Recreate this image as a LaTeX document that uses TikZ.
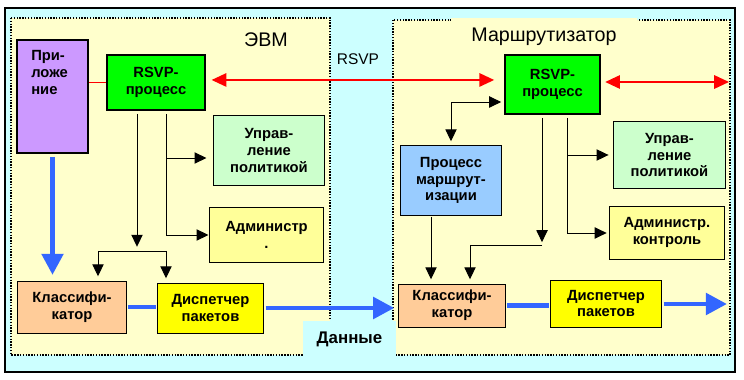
\documentclass[tikz,border=0pt]{standalone}
\usepackage{fontspec}
\setmainfont{Liberation Sans}
\usetikzlibrary{arrows.meta,positioning}
\definecolor{bgcyan}{HTML}{CCFFFF}
\definecolor{panelyellow}{HTML}{FFFFCC}
\definecolor{appviolet}{HTML}{CC99FF}
\definecolor{rsvpgreen}{HTML}{00FF00}
\definecolor{polgreen}{HTML}{CCFFCC}
\definecolor{admyellow}{HTML}{FFFF99}
\definecolor{clspeach}{HTML}{FFCC99}
\definecolor{dspyellow}{HTML}{FFFF00}
\definecolor{routblue}{HTML}{99CCFF}
\definecolor{flowblue}{HTML}{3366FF}

\begin{document}
\begin{tikzpicture}[x=0.025cm, y=-0.025cm,
  box/.style={draw, inner sep=0pt, align=center, line width=0.7pt, font=\bfseries\fontsize{10.5}{12}\selectfont},
  heavy/.style={line width=1.4pt},
  lbl/.style={inner sep=0pt, font=\bfseries\fontsize{10.5}{12}\selectfont},
  heading/.style={inner sep=0pt, font=\fontsize{14}{16}\selectfont},
  panel/.style={draw, fill=panelyellow, line width=0.8pt, dash pattern=on 1pt off 1pt},
  wire/.style={line width=0.7pt},
  arr/.style={wire, -{Triangle[length=8.5pt,width=8pt]}},
  darr/.style={wire, {Triangle[length=8.5pt,width=8pt]}-{Triangle[length=8.5pt,width=8pt]}},
  flow/.style={draw=flowblue, line width=3.5pt},
  flowarr/.style={flow, -{Triangle[length=15pt,width=15pt]}},
  redline/.style={draw=red, line width=1.3pt},
  sigarr/.style={redline, {Triangle[length=10.5pt,width=9.5pt]}-{Triangle[length=10.5pt,width=9.5pt]}}
]
\useasboundingbox (0,0) rectangle (744,380);
\fill[white] (0,0) rectangle (744,380);
\draw[line width=1.4pt, fill=bgcyan] (5,8) rectangle (735,372);

\path[panel] (11,18) rectangle (330,355);
\path[panel] (393,20) rectangle (730,355);

\node[heading] (evm) at (266,40) {ЭВМ};
\node[heading, fill=panelyellow, minimum width=4.625cm, minimum height=0.95cm] (router) at (544,37) {Маршрутизатор};
\node[inner sep=0pt, font=\fontsize{11}{13}\selectfont] (rsvp) at (358,59) {RSVP};
\node[inner sep=0pt, fill=bgcyan, minimum width=2.325cm, minimum height=0.9cm, font=\bfseries\fontsize{12}{14}\selectfont] (data) at (349.5,339) {Данные};

\node[box, heavy, fill=appviolet, minimum width=1.775cm, minimum height=2.825cm] (app) at (52.5,96.5) {};
\node[lbl, anchor=north west, align=left] (apptxt) at (31,50) {При-\\ложе\\ние};
\node[box, heavy, fill=rsvpgreen, minimum width=2.45cm, minimum height=1.375cm] (rsvpL) at (156,82.5) {RSVP-\\процесс};
\node[box, fill=polgreen, minimum width=2.75cm, minimum height=1.725cm] (polL) at (269,150.5) {Управ-\\ление\\политикой};
\node[box, fill=admyellow, minimum width=2.825cm, minimum height=1.35cm] (admL) at (266.5,235) {Администр\\.};
\node[box, fill=clspeach, minimum width=2.7cm, minimum height=1.3cm] (clsL) at (72,307) {Классифи-\\катор};
\node[box, fill=dspyellow, minimum width=2.625cm, minimum height=1.25cm] (dspL) at (210.5,308) {Диспетчер\\пакетов};

\node[box, heavy, fill=rsvpgreen, minimum width=2.375cm, minimum height=1.475cm] (rsvpR) at (552.5,84.5) {RSVP-\\процесс};
\node[box, fill=polgreen, minimum width=2.775cm, minimum height=1.65cm] (polR) at (669.5,155) {Управ-\\ление\\политикой};
\node[box, fill=routblue, minimum width=2.5cm, minimum height=1.725cm] (rout) at (451,180.5) {Процесс\\маршрут-\\изации};
\node[box, fill=admyellow, minimum width=2.85cm, minimum height=1.325cm] (admR) at (667,232.5) {Администр.\\контроль};
\node[box, fill=clspeach, minimum width=2.65cm, minimum height=1.075cm] (clsR) at (452,305.5) {Классифи-\\катор};
\node[box, fill=dspyellow, minimum width=2.75cm, minimum height=1.175cm] (dspR) at (606,303.5) {Диспетчер\\пакетов};

\coordinate (sigEnd) at (729,82);
\coordinate (flowEnd) at (727,304);
\coordinate (lsplit) at (137,251);
\coordinate (lforkW) at (98,251);
\coordinate (lforkE) at (166,251);
\coordinate (lpolbr) at (166,158);
\coordinate (lpol) at (166,235);
\coordinate (rsplit) at (542,245);
\coordinate (rforkW) at (470,245);
\coordinate (rpolbr) at (567,155);
\coordinate (radm) at (567,233);
\coordinate (rrt) at (431,217);
\coordinate (rcorner) at (452,102);

\draw[redline] (rsvpL.west -| app.east) -- (rsvpL.west);
\draw[sigarr, shorten <=4pt, shorten >=7pt] ([yshift=1.8pt]rsvpL.east) -- ([yshift=1.8pt]rsvpL.east -| rsvpR.west);
\draw[sigarr, shorten <=3pt] (rsvpR.east |- sigEnd) -- (sigEnd);

\draw[flowarr, shorten <=2pt, shorten >=4pt] (app.south) -- (app.south |- clsL.north);
\draw[flow, shorten <=1pt, shorten >=1pt] (clsL.east) -- (clsL.east -| dspL.west);
\draw[flowarr, shorten <=1.5pt, shorten >=3pt] (dspL.east) -- (dspL.east -| clsR.west);
\draw[flow, shorten <=1pt, shorten >=1pt] (clsR.east) -- (clsR.east -| dspR.west);
\draw[flowarr, shorten <=1.5pt] (dspR.east |- flowEnd) -- (flowEnd);

\draw[arr, shorten <=2pt, shorten >=3pt] (rsvpL.south -| lsplit) -- (lsplit);
\draw[wire] (lforkW) -- (lforkE);
\draw[wire, shorten <=2pt] (rsvpL.south -| lpol) -- (lpol);
\draw[arr, shorten >=5pt] (lpolbr) -- (lpolbr -| polL.west);
\draw[arr, shorten >=0.7pt] (lpol) -- (lpol -| admL.west);

\draw[arr, shorten <=2pt, shorten >=2pt] (rsvpR.south -| rsplit) -- (rsplit);
\draw[wire] (rsplit) -- (rforkW);
\draw[wire, shorten <=2pt] (rsvpR.south -| radm) -- (radm);
\draw[arr, shorten >=3.5pt] (rpolbr) -- (rpolbr -| polR.west);
\draw[arr, shorten >=2pt] (radm) -- (radm -| admR.west);
\draw[darr, shorten <=3pt, shorten >=2pt] (rout.north) -- (rout.north |- rcorner) -- (rcorner -| rsvpR.west);

\foreach \p/\q in {lforkW/clsL, lforkE/dspL, rforkW/clsR, rrt/clsR}
  \draw[arr, shorten >=3pt] (\p) -- (\p |- \q.north);
\end{tikzpicture}
\end{document}
